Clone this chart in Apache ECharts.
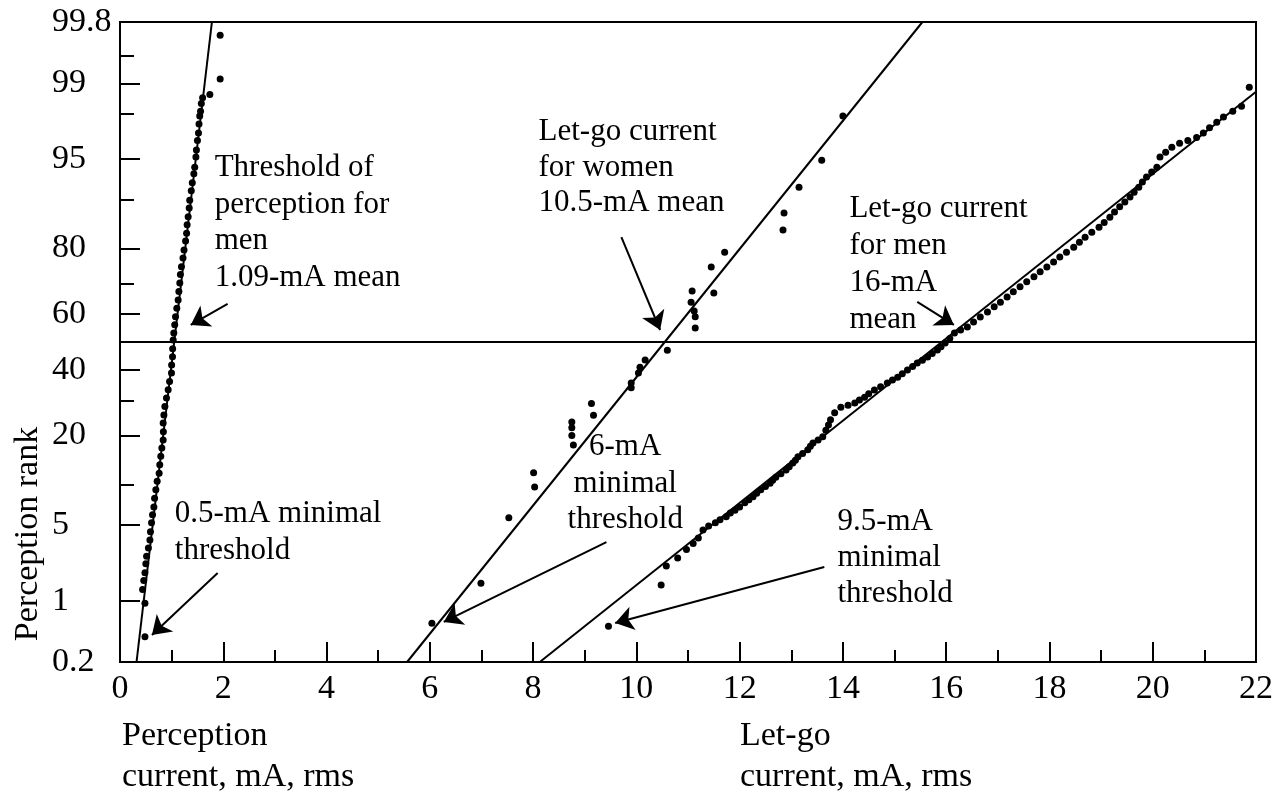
<!DOCTYPE html>
<html><head><meta charset="utf-8">
<script src="https://cdn.jsdelivr.net/npm/echarts@6/dist/echarts.min.js"></script>
<style>html,body{margin:0;padding:0;background:#fff}#c{width:1276px;height:796px}</style>
</head><body><div id="c"></div>
<script>
// ---------- DATA (current in mA, rank in percent) ----------
const yTickPercents = [0.2, 1, 5, 20, 40, 60, 80, 95, 99, 99.8];
const yTickLabels = ['0.2', '1', '5', '20', '40', '60', '80', '95', '99', '99.8'];
const yMinorPercents = [99.5, 98, 90, 70, 30, 10];
const xMin = 0, xMax = 22, xStep = 2;

const perceptionPoints = [
  [1.94,99.71],[1.94,99.1],[1.74,98.7],[1.60,98.6],[1.575,98.4],[1.56,98.1],[1.544,97.9],[1.53,97.5],
  [1.52,97.0],[1.50,96.5],[1.48,95.8],[1.47,95.2],[1.447,94.2],[1.43,93.5],[1.40,92.4],[1.38,91.3],
  [1.35,89.9],[1.34,88.6],[1.32,87.0],[1.30,85.4],[1.29,83.6],[1.27,81.8],[1.24,79.6],[1.22,77.5],
  [1.19,75.1],[1.17,72.8],[1.158,70.2],[1.14,67.5],[1.126,64.7],[1.10,61.9],[1.075,59.0],[1.06,56.2],
  [1.042,53.2],[1.03,50.7],[1.02,47.6],[1.017,44.7],[1.00,41.8],[0.997,39.0],[0.96,36.1],[0.933,33.4],
  [0.90,30.7],[0.869,28.1],[0.85,25.6],[0.836,23.3],[0.84,21.0],[0.836,18.9],[0.81,17.0],[0.79,15.2],
  [0.77,13.5],[0.758,11.9],[0.72,10.5],[0.694,9.2],[0.67,8.0],[0.656,6.9],[0.63,6.0],[0.611,5.2],
  [0.59,4.4],[0.579,3.75],[0.55,3.2],[0.515,2.7],[0.50,2.3],[0.483,1.9],[0.46,1.6],[0.438,1.3],
  [0.483,0.94],[0.483,0.4]
];
const womenPoints = [
  [14.0,97.9],[13.59,94.9],[13.15,91.8],[12.86,87.7],[12.84,84.3],[11.71,79],[11.45,75],[11.5,67],
  [11.08,67.7],[11.06,64],[11.12,61],[11.14,59],[11.14,55],[10.6,47],[10.17,43.6],[10.07,41],
  [10.04,39],[9.9,35.6],[9.9,34],[9.13,29],[9.17,25.5],[8.75,23.6],[8.75,22],[8.75,20],
  [8.78,17.7],[8.01,12],[8.03,9.6],[7.53,5.7],[6.99,1.5],[6.04,0.57]
];
const menPoints = [
  [9.46,0.53],[10.48,1.44],[10.58,2.2],[10.8,2.6],[10.97,3.1],[11.1,3.5],[11.20,3.9],[11.29,4.55],
  [11.4,4.9],[11.53,5.2],[11.62,5.5],[11.74,5.8],[11.82,6.2],[11.91,6.5],[12.0,6.9],[12.10,7.4],
  [12.18,7.8],[12.26,8.2],[12.33,8.7],[12.41,9.2],[12.5,9.7],[12.59,10.2],[12.64,10.7],[12.70,11.2],
  [12.8,11.8],[12.90,12.5],[12.96,13.1],[13.03,13.8],[13.08,14.4],[13.13,15.1],[13.22,15.8],[13.32,16.6],
  [13.37,17.4],[13.42,18.2],[13.52,18.9],[13.61,19.7],[13.67,21.4],[13.72,22.8],[13.76,24.2],[13.84,26.2],
  [13.96,27.9],[14.1,28.5],[14.23,29.2],[14.32,30.1],[14.42,31.0],[14.5,32.1],[14.61,33.3],[14.73,34.4],
  [14.86,35.6],[14.96,36.6],[15.06,37.6],[15.15,38.8],[15.25,40.1],[15.35,41.3],[15.44,42.5],[15.54,43.5],
  [15.64,44.6],[15.73,45.9],[15.83,47.1],[15.9,48.3],[15.98,49.6],[16.07,51.3],[16.16,53.2],[16.28,54.3],
  [16.41,55.4],[16.53,57.1],[16.66,58.9],[16.8,60.6],[16.93,62.4],[17.05,64.0],[17.18,65.7],[17.3,67.4],
  [17.43,69.0],[17.56,70.6],[17.70,72.1],[17.82,73.6],[17.95,75.0],[18.08,76.4],[18.20,77.8],[18.33,79.0],
  [18.47,80.3],[18.58,81.5],[18.69,82.7],[18.82,83.8],[18.96,84.9],[19.06,85.9],[19.17,86.9],[19.26,87.9],
  [19.36,88.8],[19.46,89.6],[19.56,90.4],[19.64,91.1],[19.73,91.8],[19.8,92.5],[19.88,93.1],[19.98,93.7],
  [20.08,94.2],[20.14,95.2],[20.25,95.6],[20.37,96.0],[20.52,96.3],[20.68,96.5],[20.85,96.7],[20.98,97.0],
  [21.10,97.3],[21.24,97.6],[21.37,97.85],[21.55,98.1],[21.72,98.3],[21.87,98.9]
];
const perceptionFit = [[0.32,0.2],[1.78,99.8]];
const womenFit = [[5.56,0.2],[15.54,99.8]];
const menFit = [[8.13,0.2],[22.0,98.78]];
const meanLine = [[0,50],[22,50]];

// annotation texts: anchor [mA, percent] = top of the text block
const annotationTexts = [
  {text:'Threshold of\nperception for\nmen\n1.09-mA mean', at:[1.833,95.79], align:'left', lh:36.5},
  {text:'0.5-mA minimal\nthreshold', at:[1.061,8.44], align:'left', lh:37},
  {text:'Let-go current\nfor women\n10.5-mA mean', at:[8.105,97.98], align:'left', lh:35.5},
  {text:'Let-go current\nfor men\n16-mA\nmean', at:[14.126,91.42], align:'left', lh:37},
  {text:'6-mA\nminimal\nthreshold', at:[9.784,21.7], align:'center', lh:36.5},
  {text:'9.5-mA\nminimal\nthreshold', at:[13.894,7.26], align:'left', lh:36}
];
// arrows: [from [mA, %], to [mA, %]]
const annotationArrows = [
  [[2.084,63.4],[1.37,56.1]],
  [[1.891,1.89],[0.618,0.42]],
  [[9.71,82.7],[10.46,54.3]],
  [[15.44,64.1],[16.15,56.1]],
  [[9.42,3.6],[6.27,0.59]],
  [[13.64,2.15],[9.59,0.575]]
];
const yAxisTitle = 'Perception rank';
const xTitles = ['Perception\ncurrent, mA, rms', 'Let-go\ncurrent, mA, rms'];

// ---------- normal probability transform ----------
function probit(pct) {
  const p = pct / 100;
  const a=[-3.969683028665376e+01,2.209460984245205e+02,-2.759285104469687e+02,1.383577518672690e+02,-3.066479806614716e+01,2.506628277459239e+00];
  const b=[-5.447609879822406e+01,1.615858368580409e+02,-1.556989798598866e+02,6.680131188771972e+01,-1.328068155833025e+01];
  const c=[-7.784894002430293e-03,-3.223964580411365e-01,-2.400758277161838e+00,-2.549732025793421e+00,4.374664141464968e+00,2.938163982698783e+00];
  const d=[7.784695709041462e-03,3.224671290700398e-01,2.445134137142996e+00,3.754408661907416e+00];
  const pl=0.02425, ph=1-pl;
  let q, r;
  if (p < pl) { q=Math.sqrt(-2*Math.log(p)); return (((((c[0]*q+c[1])*q+c[2])*q+c[3])*q+c[4])*q+c[5])/((((d[0]*q+d[1])*q+d[2])*q+d[3])*q+1); }
  if (p <= ph) { q=p-0.5; r=q*q; return (((((a[0]*r+a[1])*r+a[2])*r+a[3])*r+a[4])*r+a[5])*q/(((((b[0]*r+b[1])*r+b[2])*r+b[3])*r+b[4])*r+1); }
  q=Math.sqrt(-2*Math.log(1-p)); return -(((((c[0]*q+c[1])*q+c[2])*q+c[3])*q+c[4])*q+c[5])/((((d[0]*q+d[1])*q+d[2])*q+d[3])*q+1);
}
const tr = arr => arr.map(([x, p]) => [x, probit(p)]);

const FONT = '"Liberation Serif", "Times New Roman", serif';
const FS = 34;      // axis texts
const FS_ANN = 31;  // annotation texts
const yMajorZ = yTickPercents.map(probit);
const yMinorZ = yMinorPercents.map(probit);
const zMin = probit(yTickPercents[0]), zMax = probit(yTickPercents[yTickPercents.length-1]);

function yLabel(v) {
  let best = 0, bd = Infinity;
  yMajorZ.forEach((z, i) => { const dd = Math.abs(z - v); if (dd < bd) { bd = dd; best = i; } });
  return yTickLabels[best];
}

const chart = echarts.init(document.getElementById('c'), null, {renderer: 'canvas'});
const lineStyleBlack = {color: '#000', width: 2};
function fitSeries(name, data) {
  return {name, type: 'line', data: tr(data), showSymbol: false, symbol: 'none',
          lineStyle: {color: '#000', width: 2}, z: 2, silent: true, clip: true};
}
function scatterSeries(name, data) {
  return {name, type: 'scatter', data: tr(data), symbolSize: 7,
          itemStyle: {color: '#000', opacity: 1}, z: 3, silent: true};
}

chart.setOption({
  animation: false,
  backgroundColor: '#fff',
  grid: {left: 120, top: 22, width: 1140, height: 640, show: true, borderColor: '#000', borderWidth: 2, containLabel: false},
  xAxis: {
    type: 'value', min: xMin, max: xMax, interval: xStep,
    axisLine: {show: true, onZero: false, lineStyle: lineStyleBlack},
    axisTick: {show: true, inside: true, length: 20, lineStyle: lineStyleBlack},
    minorTick: {show: true, splitNumber: 2, length: 12, lineStyle: lineStyleBlack},
    splitLine: {show: false}, minorSplitLine: {show: false},
    axisLabel: {color: '#000', fontSize: FS, fontFamily: FONT, margin: 10, showMinLabel: true, showMaxLabel: true}
  },
  yAxis: [{
    type: 'value', min: zMin, max: zMax,
    axisLine: {show: true, onZero: false, lineStyle: lineStyleBlack},
    axisTick: {show: true, inside: true, length: 20, lineStyle: lineStyleBlack, customValues: yMajorZ},
    splitLine: {show: false},
    axisLabel: {color: '#000', fontSize: FS, fontFamily: FONT, align: 'left', margin: 68,
                customValues: yMajorZ, formatter: yLabel, showMinLabel: true, showMaxLabel: true}
  }, {
    type: 'value', min: zMin, max: zMax, position: 'left',
    axisLine: {show: false, onZero: false},
    axisTick: {show: true, inside: true, length: 14, lineStyle: lineStyleBlack, customValues: yMinorZ},
    axisLabel: {show: false}, splitLine: {show: false}
  }],
  series: [
    fitSeries('perceptionFit', perceptionFit),
    fitSeries('womenFit', womenFit),
    fitSeries('menFit', menFit),
    fitSeries('mean50', meanLine),
    scatterSeries('perception', perceptionPoints),
    scatterSeries('women', womenPoints),
    scatterSeries('men', menPoints),
    {
      name: 'arrows', type: 'line', data: [], silent: true,
      itemStyle: {color: '#000'},
      markLine: {
        silent: true, symbol: ['none', 'arrow'], symbolSize: 18,
        itemStyle: {color: '#000'},
        lineStyle: {color: '#000', width: 2, type: 'solid'},
        label: {show: false},
        data: annotationArrows.map(([f, t]) => [{coord: [f[0], probit(f[1])]}, {coord: [t[0], probit(t[1])]}])
      }
    }
  ]
});

// text annotations (real text), placed through the chart's coordinate conversion
const graphics = annotationTexts.map(a => {
  const [px, py] = chart.convertToPixel({gridIndex: 0}, [a.at[0], probit(a.at[1])]);
  return {type: 'text', x: px, y: py, silent: true, z: 10,
          style: {text: a.text, fill: '#000', fontSize: FS_ANN, fontFamily: FONT, align: a.align,
                  verticalAlign: 'top', lineHeight: a.lh}};
});
graphics.push({type: 'text', x: 28, y: 534, rotation: Math.PI / 2, silent: true,
  style: {text: yAxisTitle, fill: '#000', fontSize: FS, fontFamily: FONT, align: 'center', verticalAlign: 'middle'}});
graphics.push({type: 'text', left: 122, top: 716, silent: true,
  style: {text: xTitles[0], fill: '#000', fontSize: FS, fontFamily: FONT, lineHeight: 41}});
graphics.push({type: 'text', left: 740, top: 716, silent: true,
  style: {text: xTitles[1], fill: '#000', fontSize: FS, fontFamily: FONT, lineHeight: 41}});
chart.setOption({graphic: graphics});
</script>
</body></html>
